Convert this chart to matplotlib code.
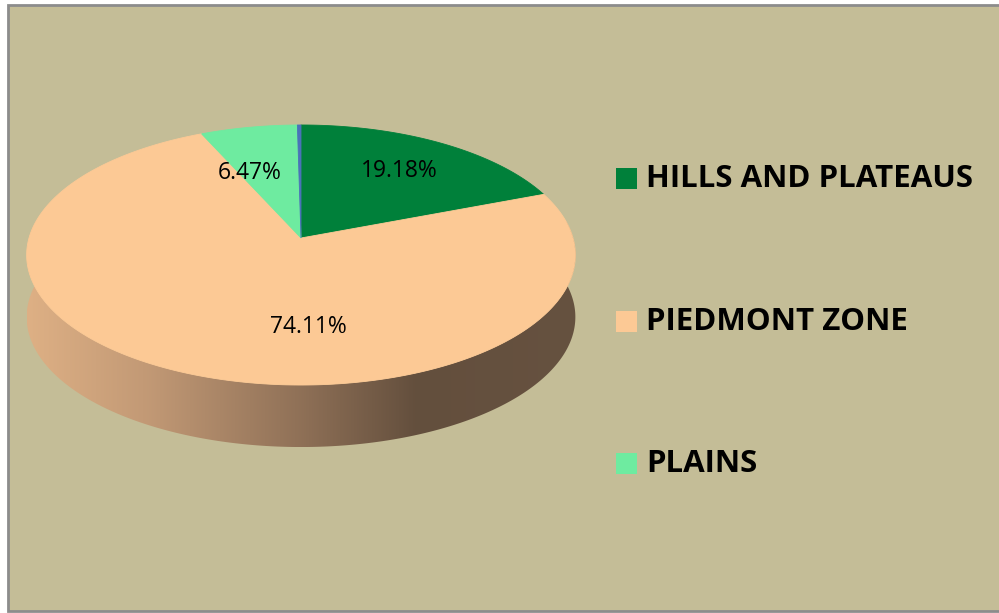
import numpy as np
import matplotlib
matplotlib.use("Agg")
import matplotlib.pyplot as plt
from matplotlib.patches import Polygon, Rectangle
from matplotlib.colors import LinearSegmentedColormap

# data
categories = ["HILLS AND PLATEAUS", "PIEDMONT ZONE", "PLAINS", "OTHER"]
shares = [19.18, 74.11, 6.47, 0.24]
colors = ["#00803a", "#fcc995", "#6eeba0", "#4a72b8"]
legend_items = 3  # the tiny slice has no legend entry

# pie geometry (pixels), slight perspective
cx, cy = 301, 238
rx, ry = 272, 127.8
k = -0.1308
depth = 62

def proj(theta, r=1.0):
    # theta clockwise from 12 o'clock
    u = r * np.sin(theta)
    v = -r * np.cos(theta)
    d = 1 + k * v
    return cx + rx * u / d, cy + ry * v / d

fig = plt.figure(figsize=(9.99, 6.13), dpi=100)
fig.patch.set_facecolor("white")
ax = fig.add_axes([0, 0, 1, 1])
ax.set_xlim(0, 999)
ax.set_ylim(613, 0)
ax.axis("off")

# chart area
ax.add_patch(Rectangle((8, 4.5), 1010, 606, facecolor="#c4bd97",
                       edgecolor="#8c8c8c", linewidth=2, zorder=0))

# side wall (front half)
t_front = np.linspace(np.arccos(-k) + 1e-3, 2 * np.pi - np.arccos(-k) - 1e-3, 300)
tx, ty = proj(t_front)
side = np.vstack([np.column_stack([tx, ty]),
                  np.column_stack([tx[::-1], ty[::-1] + depth])])
side_poly = Polygon(side, closed=True, facecolor="none", edgecolor="none")
ax.add_patch(side_poly)
shade = LinearSegmentedColormap.from_list(
    "side", [(0.0, (0.87, 0.69, 0.52)), (0.22, (0.76, 0.60, 0.46)),
             (0.50, (0.56, 0.44, 0.34)), (0.71, (0.39, 0.31, 0.24)),
             (1.0, (0.40, 0.32, 0.25))])
grad = np.linspace(0, 1, 256).reshape(1, -1)
im = ax.imshow(grad, cmap=shade, aspect="auto",
               extent=[tx.min(), tx.max(), ty.max() + depth, ty.min()], zorder=1)
im.set_clip_path(side_poly)

# top face wedges
cum = np.concatenate([[0], np.cumsum(shares)]) / sum(shares) * 2 * np.pi
for i, c in enumerate(colors):
    t = np.linspace(cum[i], cum[i + 1], max(int((cum[i + 1] - cum[i]) * 80), 4))
    px, py = proj(t)
    pts = np.vstack([[cx, cy], np.column_stack([px, py])])
    ax.add_patch(Polygon(pts, closed=True, facecolor=c, edgecolor=c,
                         linewidth=0.6, zorder=2))

# data labels
label_pos = [(399, 171), (308, 327), (250, 173)]
for (lx, ly), s in zip(label_pos, shares[:3]):
    ax.text(lx, ly, f"{s:.2f}%", ha="center", va="center", fontsize=16.5,
            family="Open Sans", color="black", zorder=3)

# legend
rows = [178, 321, 463]
for i in range(legend_items):
    ax.add_patch(Rectangle((616, rows[i] - 10.5), 21, 21, facecolor=colors[i],
                           edgecolor="none", zorder=3))
    ax.text(646, rows[i] + 1, categories[i], ha="left", va="center",
            fontsize=22.5, fontweight="bold", family="Open Sans", color="black",
            zorder=3)

fig.savefig("out.png", dpi=100, facecolor="white")
